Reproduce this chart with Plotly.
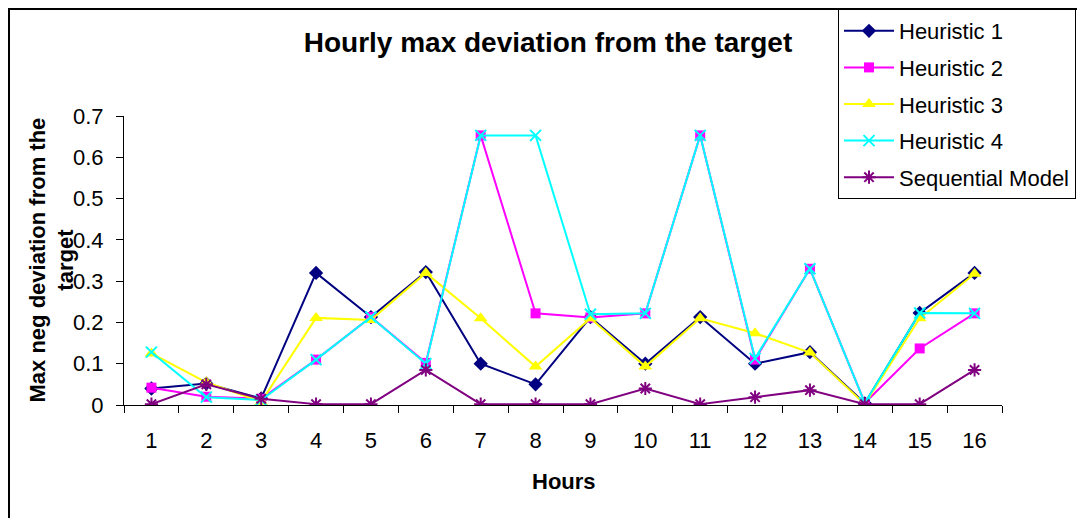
import plotly.graph_objects as go

hours = [str(h) for h in range(1, 17)]
heuristic1 = [0.04, 0.052, 0.016, 0.32, 0.213, 0.322, 0.10, 0.05, 0.213, 0.10, 0.213, 0.10, 0.128, 0.004, 0.223, 0.32]
heuristic2 = [0.042, 0.02, 0.015, 0.11, 0.213, 0.102, 0.653, 0.222, 0.212, 0.222, 0.653, 0.11, 0.33, 0.005, 0.137, 0.222]
heuristic3 = [0.125, 0.055, 0.008, 0.211, 0.206, 0.32, 0.21, 0.093, 0.21, 0.093, 0.21, 0.174, 0.127, 0.002, 0.21, 0.318]
heuristic4 = [0.128, 0.019, 0.012, 0.11, 0.213, 0.10, 0.653, 0.653, 0.22, 0.222, 0.653, 0.113, 0.33, 0.005, 0.223, 0.222]
sequential = [0.002, 0.05, 0.015, 0.002, 0.002, 0.085, 0.002, 0.002, 0.002, 0.04, 0.002, 0.019, 0.036, 0.002, 0.002, 0.085]

FONT = "Arial, Liberation Sans, sans-serif"

series = [
    ("Heuristic 1", heuristic1, "#000080", dict(symbol="diamond", size=11, color="#000080")),
    ("Heuristic 2", heuristic2, "#FF00FF", dict(symbol="square", size=10, color="#FF00FF")),
    ("Heuristic 3", heuristic3, "#FFFF00", dict(symbol="triangle-up", size=12, color="#FFFF00")),
    ("Heuristic 4", heuristic4, "#00FFFF", dict(symbol="x-thin-open", size=11, color="#00FFFF", line=dict(width=2, color="#00FFFF"))),
    ("Sequential Model", sequential, "#800080", dict(symbol="asterisk-open", size=11, color="#800080", line=dict(width=2, color="#800080"))),
]

fig = go.Figure()
for i, (name, vals, col, mk) in enumerate(series):
    fig.add_trace(go.Scatter(
        x=hours, y=vals, name=name, mode="lines+markers",
        line=dict(color=col, width=2), marker=mk, legendgroup=f"g{i}",
    ))

# page body margin shifts the figure by 8px
OFF = 8
W, H = 1085, 518
PL, PR, PT, PB = 124, 1002, 116, 405  # target screen pixels of plot area
L, T = PL - OFF, PT - OFF
R = W - (PR - OFF)
B = H - (PB - OFF)
pw, ph = W - L - R, H - T - B

def px(x):
    return (x - OFF - L) / pw

def py(y):
    return (PB - y) / ph

fig.update_layout(
    width=W, height=H,
    margin=dict(l=L, r=R, t=T, b=B, autoexpand=False),
    paper_bgcolor="white", plot_bgcolor="white",
    font=dict(family=FONT, size=22, color="black"),
    title=dict(text="<b>Hourly max deviation from the target</b>", x=(548 - OFF) / W, xanchor="center",
               y=1 - (42 - OFF) / H, yanchor="middle", font=dict(size=28, family=FONT)),
    showlegend=True,
    legend=dict(x=px(838), y=py(9), xanchor="left", yanchor="top",
                bordercolor="black", borderwidth=1, bgcolor="white",
                font=dict(size=22, family=FONT), tracegroupgap=5,
                traceorder="grouped", itemwidth=50),
    xaxis=dict(type="category", tickson="boundaries", ticks="outside", ticklen=7,
               tickcolor="black", showline=True, linecolor="black", linewidth=1,
               showgrid=False, zeroline=False, range=[-0.5, 15.5], automargin=False,
               ticklabelstandoff=16, tickfont=dict(size=22)),
    yaxis=dict(range=[0, 0.7], dtick=0.1, tickformat="~g", ticks="outside", ticklen=7,
               tickcolor="black", showline=True, linecolor="black", linewidth=1,
               showgrid=False, zeroline=False, automargin=False,
               ticklabelstandoff=8, tickfont=dict(size=22)),
    annotations=[
        dict(text="<b>Hours</b>", xref="paper", yref="paper", x=px(564), y=py(481),
             xanchor="center", yanchor="middle", showarrow=False, font=dict(size=22)),
        dict(text="<b>Max neg deviation from the<br>target</b>", xref="paper", yref="paper",
             x=px(51), y=0.5, xanchor="center", yanchor="middle", textangle=-90,
             showarrow=False, font=dict(size=22)),
    ],
    shapes=[dict(type="rect", xref="paper", yref="paper",
                 x0=px(OFF + 1), x1=px(1100), y0=py(540), y1=py(OFF + 1),
                 line=dict(color="black", width=2), fillcolor="rgba(0,0,0,0)", layer="below")],
)

fig.write_html("out.html")
